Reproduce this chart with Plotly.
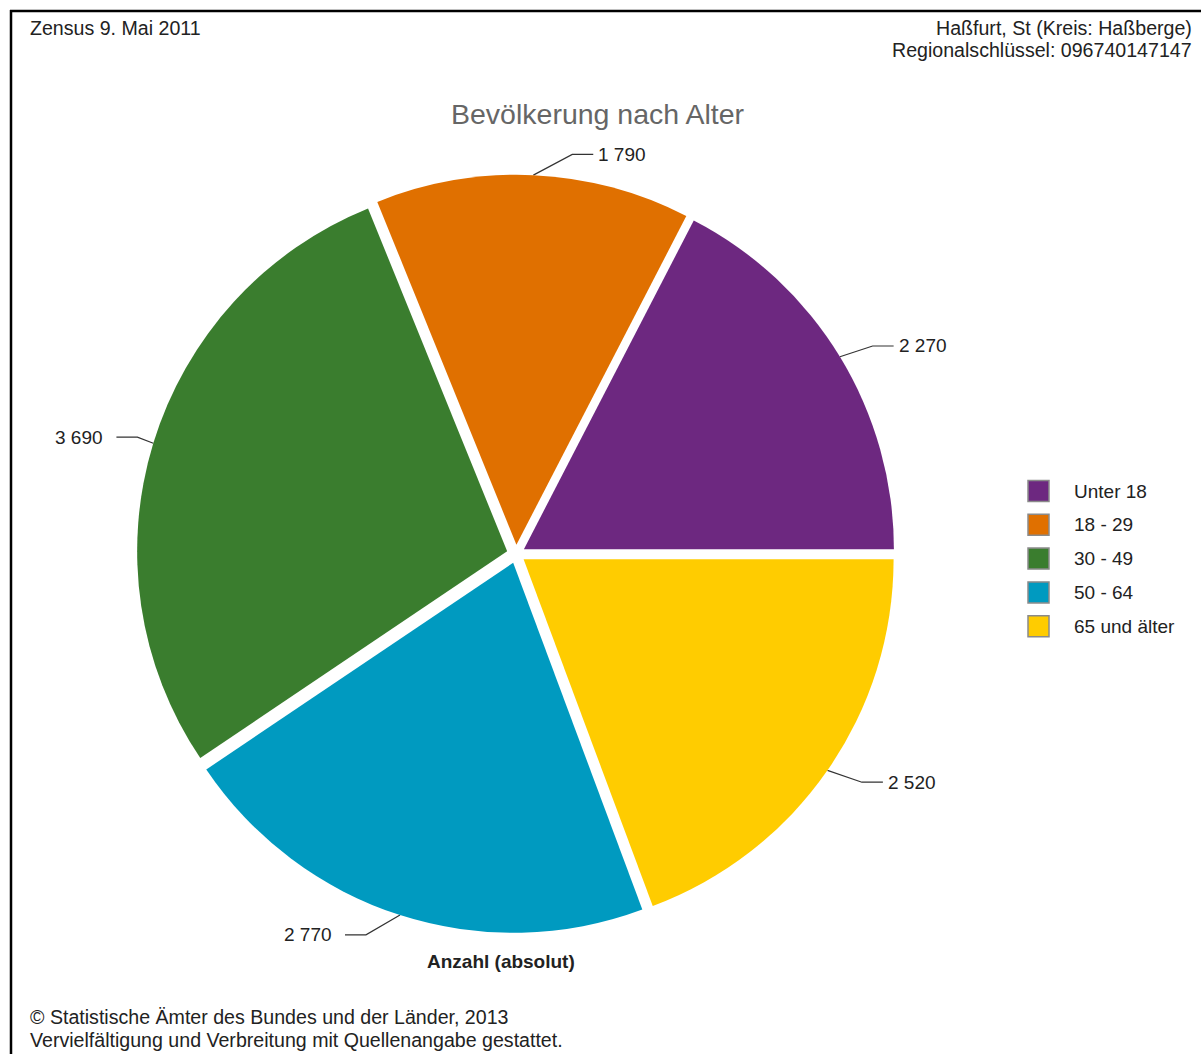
import math
import plotly.graph_objects as go

# ---- data ----
categories = ["Unter 18", "18 - 29", "30 - 49", "50 - 64", "65 und älter"]
values = [2270, 1790, 3690, 2770, 2520]
colors = ["#6D2880", "#E07000", "#3A7D2E", "#009AC0", "#FFCC00"]

title_text = "Bevölkerung nach Alter"
header_left = "Zensus 9. Mai 2011"
header_right = ["Haßfurt, St (Kreis: Haßberge)", "Regionalschlüssel: 096740147147"]
footer = ["© Statistische Ämter des Bundes und der Länder, 2013",
          "Vervielfältigung und Verbreitung mit Quellenangabe gestattet."]
unit_text = "Anzahl (absolut)"

# ---- layout constants (pixels) ----
W, H = 1201, 1054
CX, CY, R, PULL = 516, 554, 370, 0.025
FONT = "Liberation Sans, Arial, sans-serif"
FS = 19

half = R * (1 + PULL)
dom_x = [(CX - half) / W, (CX + half) / W]
dom_y = [(H - (CY + half)) / H, (H - (CY - half)) / H]

total = sum(values)
# plotly: with counterclockwise direction the first slice ends at `rotation`;
# make the first slice start at 3 o'clock
rotation = 90 - 360 * values[0] / total


def fmt(v):
    return f"{v:,}".replace(",", " ")


fig = go.Figure()

fig.add_trace(go.Pie(
    labels=categories, values=values, sort=False,
    direction="counterclockwise", rotation=rotation,
    pull=[PULL] * len(values),
    marker=dict(colors=colors, line=dict(width=0)),
    textinfo="none", showlegend=False, domain=dict(x=dom_x, y=dom_y),
    hovertemplate="%{label}: %{value}<extra></extra>",
))

# connectors + value labels computed from the data
cum = 0
lx, ly = [], []
annotations = []
for v in values:
    mid = 2 * math.pi * (cum + v / 2) / total
    cum += v
    c, s = math.cos(mid), math.sin(mid)
    sign = 1 if c >= 0 else -1
    sx, sy = CX + half * c, CY - half * s
    ey = CY - 400 * s
    ex = CX + 4 + 400 * c + sign * (-14 + 48 * abs(s))
    hx = ex + sign * 21
    lx += [sx, ex, hx, None]
    ly += [sy, ey, ey, None]
    annotations.append(dict(
        x=hx + (3 if sign > 0 else -11), y=ey, xref="x", yref="y",
        text=fmt(v), showarrow=False,
        xanchor="left" if sign > 0 else "right", yanchor="middle",
        font=dict(family=FONT, size=FS, color="#222")))

fig.add_trace(go.Scatter(x=lx, y=ly, mode="lines",
                         line=dict(color="#333", width=1.2),
                         hoverinfo="skip", showlegend=False))

# legend (manual, square swatches)
LEG_X, LEG_Y0, LEG_DY = 1038.5, 491, 33.8
fig.add_trace(go.Scatter(
    x=[LEG_X] * len(categories),
    y=[LEG_Y0 + i * LEG_DY for i in range(len(categories))],
    mode="markers",
    marker=dict(symbol="square", size=21, color=colors,
                line=dict(color="#8a8a8a", width=1.5)),
    hoverinfo="skip", showlegend=False))
for i, cat in enumerate(categories):
    annotations.append(dict(
        x=LEG_X + 33, y=LEG_Y0 + i * LEG_DY, xref="x", yref="y",
        text=cat, showarrow=False, xanchor="left", yanchor="middle",
        font=dict(family=FONT, size=FS, color="#222")))

# texts
annotations += [
    dict(x=28, y=28, text=header_left, xanchor="left"),
    dict(x=1194, y=28, text=header_right[0], xanchor="right"),
    dict(x=1194, y=50, text=header_right[1], xanchor="right"),
    dict(x=28, y=1017, text=footer[0], xanchor="left"),
    dict(x=28, y=1040, text=footer[1], xanchor="left"),
]
for a in annotations[-5:]:
    a.update(xref="x", yref="y", showarrow=False, yanchor="middle",
             font=dict(family=FONT, size=19.6, color="#222"))

annotations.append(dict(x=598, y=114, xref="x", yref="y", text=title_text,
                        showarrow=False, xanchor="center", yanchor="middle",
                        font=dict(family=FONT, size=28.5, color="#666666")))
annotations.append(dict(x=501, y=961, xref="x", yref="y",
                        text=f"<b>{unit_text}</b>", showarrow=False,
                        xanchor="center", yanchor="middle",
                        font=dict(family=FONT, size=FS, color="#222")))

fig.update_layout(
    width=W, height=H, margin=dict(l=0, r=0, t=0, b=0),
    paper_bgcolor="white", plot_bgcolor="white",
    xaxis=dict(range=[0, W], visible=False, fixedrange=True),
    yaxis=dict(range=[H, 0], visible=False, fixedrange=True),
    annotations=annotations,
    shapes=[
        dict(type="line", xref="x", yref="y", x0=10, x1=W, y0=11, y1=11,
             line=dict(color="black", width=2.5)),
        dict(type="line", xref="x", yref="y", x0=11, x1=11, y0=10, y1=H,
             line=dict(color="black", width=2.5)),
    ],
)

fig.write_html("out.html", config={"displayModeBar": False},
               post_script="document.body.style.margin='0';"
                           "document.body.style.overflow='hidden';")
